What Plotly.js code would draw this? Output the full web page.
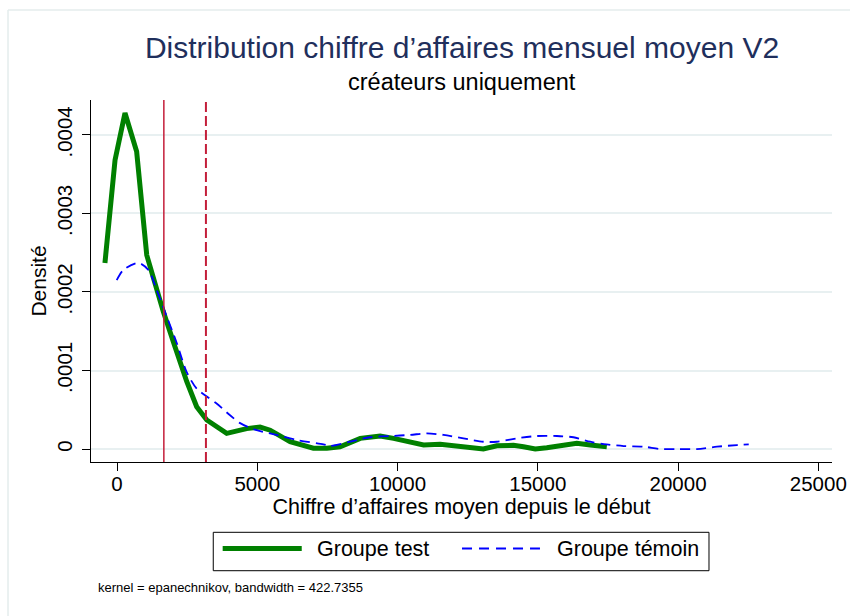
<!DOCTYPE html>
<html>
<head>
<meta charset="utf-8">
<script src="https://cdn.plot.ly/plotly-3.0.1.min.js"></script>
<style>html,body{margin:0;padding:0;background:#fff;}#chart{width:850px;height:616px;}</style>
</head>
<body>
<div id="chart"></div>
<script>
// Groupe test density (x in euros, y density)
const testX = [-430, -70, 285, 700, 1060, 1650, 2070, 2485, 2840, 3200, 3910, 4620, 5100, 5460, 6170, 7000, 7480, 7950, 8670, 9380, 9860, 10450, 10930, 11520, 12120, 12590, 13060, 13540, 14130, 14490, 14910, 15320, 15920, 16390, 16870, 17460];
const testY = [0.000237, 0.000368, 0.000428, 0.000379, 0.000247, 0.000175, 0.000130, 0.000086, 0.000054, 0.000037, 0.000020, 0.000026, 0.000028, 0.000024, 0.0000093, 0.000001, 0.000001, 0.000003, 0.0000136, 0.0000166, 0.0000136, 0.0000093, 0.0000051, 0.000006, 0.0000038, 0.0000021, 0.0, 0.0000042, 0.0000047, 0.000003, 0.0, 0.0000017, 0.0000047, 0.0000072, 0.0000051, 0.000003];
// Groupe témoin density
const temoinX = [-10, 225, 760, 1120, 1410, 1770, 2130, 2485, 2840, 3200, 3550, 4030, 4390, 4980, 5690, 6410, 7360, 7600, 8310, 9020, 9740, 10450, 11050, 11640, 12350, 13060, 13540, 14250, 14970, 15680, 16270, 16870, 17350, 18060, 18770, 19370, 19960, 20670, 21390, 22100, 22520];
const temoinY = [0.000215, 0.000228, 0.000237, 0.000228, 0.000203, 0.000169, 0.000135, 0.000098, 0.000077, 0.000067, 0.000058, 0.000043, 0.000033, 0.000024, 0.000018, 0.0000115, 0.000006, 0.000004, 0.0000093, 0.000015, 0.0000166, 0.000018, 0.000020, 0.000018, 0.0000136, 0.0000093, 0.0000093, 0.0000136, 0.0000166, 0.0000166, 0.000015, 0.0000093, 0.0000064, 0.0000038, 0.000003, 0.0, 0.0, 0.0, 0.000003, 0.0000051, 0.000006];
// Group means (vertical reference lines)
const meanTest = 1670;
const meanTemoin = 3170;
const seriesNames = ["Groupe test", "Groupe témoin"];
const xTicks = [0, 5000, 10000, 15000, 20000, 25000];
const xTickText = ["0", "5000", "10000", "15000", "20000", "25000"];
const yTicks = [0, 0.0001, 0.0002, 0.0003, 0.0004];
const yTickText = ["0", ".0001", ".0002", ".0003", ".0004"];

const FONT = "Liberation Sans, Arial, sans-serif";
const GREEN = "#008000";
const BLUE = "#0000ff";
const RED = "#c41e3a";
const GRID = "#e8f0f1";

const traces = [
  {x: testX, y: testY, type: "scatter", mode: "lines", name: seriesNames[0],
   line: {color: GREEN, width: 5}, showlegend: false},
  {x: temoinX, y: temoinY, type: "scatter", mode: "lines", name: seriesNames[1],
   line: {color: BLUE, width: 1.8, dash: "10px,6px", shape: "spline", smoothing: 0.8}, showlegend: false}
];

const legY = -0.239;
const layout = {
  width: 850, height: 616,
  margin: {l: 91, r: 18, t: 100, b: 154},
  paper_bgcolor: "#ffffff", plot_bgcolor: "#ffffff",
  font: {family: FONT, color: "#000", size: 20},
  showlegend: false,
  title: {text: "Distribution chiffre d\u2019affaires mensuel moyen V2",
          font: {family: FONT, size: 30, color: "#1f2f5c"},
          xref: "paper", x: 0.5007, xanchor: "center",
          yref: "container", y: 0.9237, yanchor: "middle"},
  xaxis: {range: [-927, 25488], tickvals: xTicks, ticktext: xTickText,
          ticks: "outside", ticklen: 8, tickcolor: "#000", tickwidth: 1, ticklabelstandoff: -5,
          showline: true, linecolor: "#000", linewidth: 1, showgrid: false, zeroline: false,
          tickfont: {size: 20.5, family: FONT},
          title: {text: "Chiffre d\u2019affaires moyen depuis le début", font: {size: 21.5, family: FONT}, standoff: 5}},
  yaxis: {range: [-0.0000165, 0.0004445], tickvals: yTicks, ticktext: yTickText,
          ticks: "outside", ticklen: 8, tickcolor: "#000", tickwidth: 1, tickangle: -90, ticklabelstandoff: 2,
          showline: true, linecolor: "#000", linewidth: 1, showgrid: true, gridcolor: GRID, gridwidth: 2,
          zeroline: false, tickfont: {size: 20.5, family: FONT},
          title: {text: "Densité", font: {size: 21, family: FONT}, standoff: 0}},
  shapes: [
    {type: "line", xref: "x", yref: "paper", x0: meanTest, x1: meanTest, y0: 0, y1: 1,
     line: {color: RED, width: 1.5}},
    {type: "line", xref: "x", yref: "paper", x0: meanTemoin, x1: meanTemoin, y0: 0, y1: 1,
     line: {color: RED, width: 2, dash: "10px,4px"}},
    // outer frame (top & left)
    {type: "line", xref: "paper", yref: "paper", x0: -0.112, x1: 1.03, y0: 1.2486, y1: 1.2486,
     line: {color: "#e4eded", width: 1.5}},
    {type: "line", xref: "paper", yref: "paper", x0: -0.112, x1: -0.112, y0: 1.2486, y1: -0.43,
     line: {color: "#e4eded", width: 1.5}},
    // legend box
    {type: "rect", xref: "paper", yref: "paper", x0: 0.165, x1: 0.834, y0: -0.3003, y1: -0.1942,
     line: {color: "#000", width: 1}, fillcolor: "rgba(0,0,0,0)"},
    {type: "line", xref: "paper", yref: "paper", x0: 0.1777, x1: 0.2844, y0: legY, y1: legY,
     line: {color: GREEN, width: 5}},
    {type: "line", xref: "paper", yref: "paper", x0: 0.5007, x1: 0.6059, y0: legY, y1: legY,
     line: {color: BLUE, width: 1.8, dash: "10px,7px"}}
  ],
  annotations: [
    {text: "créateurs uniquement", xref: "paper", yref: "paper", x: 0.5007, y: 1.0497,
     xanchor: "center", yanchor: "middle", showarrow: false, font: {size: 23.5, family: FONT, color: "#000"}},
    {text: seriesNames[0], xref: "paper", yref: "paper", x: 0.3023, y: legY,
     xanchor: "left", yanchor: "middle", showarrow: false, font: {size: 21.5, family: FONT, color: "#000"}},
    {text: seriesNames[1], xref: "paper", yref: "paper", x: 0.6262, y: legY,
     xanchor: "left", yanchor: "middle", showarrow: false, font: {size: 21.5, family: FONT, color: "#000"}},
    {text: "kernel = epanechnikov, bandwidth = 422.7355", xref: "paper", yref: "paper", x: 0.0067, y: -0.348,
     xanchor: "left", yanchor: "middle", showarrow: false, font: {size: 13, family: FONT, color: "#000"}}
  ]
};

Plotly.newPlot("chart", traces, layout, {displayModeBar: false, staticPlot: true});
</script>
</body>
</html>
